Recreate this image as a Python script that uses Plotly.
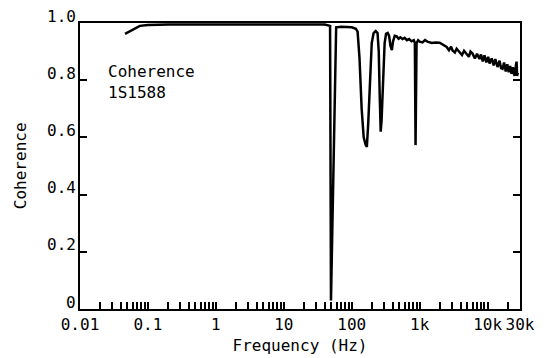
import plotly.graph_objects as go

# ---- data ----
freq_hz = [0.046, 0.06, 0.076, 0.1, 0.2, 0.5, 1, 2, 5, 10, 20, 40, 48, 49.5, 59,
           70, 100, 115, 122, 130, 140, 150, 160, 167, 175, 185, 197, 210, 225,
           240, 250, 258, 267, 275, 290, 305, 320, 338, 355, 372, 390, 405, 430,
           460, 490, 520, 560, 600, 650, 700, 760, 820, 850, 870, 900, 950, 1000,
           1100, 1200, 1300, 1500, 1700, 1970, 2200, 2500, 2700, 2900, 3050, 3300,
           3500, 3870, 4200, 4500, 4900, 5300, 5600, 6000, 6500, 7000, 7600, 8000,
           8500, 9000, 9600, 10200, 10700, 11500, 12300, 13000, 14000, 15000,
           15800, 16600, 17500, 18500, 19500, 20500, 21500, 22500, 23500, 25000,
           26000, 26700, 27200, 27800]
coherence = [0.962, 0.978, 0.99, 0.993, 0.995, 0.995, 0.995, 0.995, 0.995, 0.995,
             0.995, 0.995, 0.99, 0.03, 0.985,
             0.987, 0.985, 0.98, 0.97, 0.88, 0.70, 0.60, 0.575, 0.567, 0.65, 0.80,
             0.93, 0.965, 0.972, 0.965, 0.90, 0.75, 0.62, 0.66, 0.82, 0.93, 0.962,
             0.965, 0.955, 0.92, 0.905, 0.935, 0.955, 0.953, 0.945, 0.95, 0.944,
             0.948, 0.94, 0.944, 0.936, 0.94, 0.93, 0.573, 0.93, 0.94, 0.935,
             0.932, 0.94, 0.935, 0.93, 0.932, 0.931, 0.925, 0.916, 0.905, 0.917,
             0.904, 0.897, 0.91, 0.896, 0.888, 0.903, 0.892, 0.882, 0.9, 0.893,
             0.876, 0.892, 0.874, 0.89, 0.866, 0.887, 0.862, 0.882, 0.858, 0.876,
             0.852, 0.874, 0.846, 0.868, 0.842, 0.84, 0.862, 0.83, 0.856, 0.828,
             0.85, 0.822, 0.845, 0.815, 0.848, 0.865, 0.815, 0.826]

x_tick_vals = [0.01, 0.1, 1, 10, 100, 1000, 10000, 30000]
x_tick_text = ["0.01", "0.1", "1", "10", "100", "1k", "10k", "30k"]
y_tick_vals = [0, 0.2, 0.4, 0.6, 0.8, 1.0]
y_tick_text = ["0", "0.2", "0.4", "0.6", "0.8", "1.0"]
label_lines = ["Coherence", "1S1588"]

FONT = "DejaVu Sans Mono"

# minor tick positions (2..9 of every decade) plus labelled decades
minor_vals = []
for dec in [0.01, 0.1, 1, 10, 100, 1000, 10000]:
    for m in range(1, 10):
        v = dec * m
        if v <= 30000:
            minor_vals.append(v)
all_vals = sorted(set(minor_vals + x_tick_vals))
all_text = [x_tick_text[x_tick_vals.index(v)] if v in x_tick_vals else "" for v in all_vals]

fig = go.Figure()
fig.add_trace(go.Scatter(x=freq_hz, y=coherence, mode="lines",
                         line=dict(color="black", width=2.5), showlegend=False))

# the page body adds an 8px offset, so the figure is 8px smaller than the window
fig.update_layout(
    width=549, height=350,
    margin=dict(l=72, r=37, t=15, b=49),
    paper_bgcolor="white", plot_bgcolor="white",
    font=dict(family=FONT, size=16, color="black"),
)
fig.update_xaxes(type="log", range=[-2, 4.4771], automargin=False,
                 tickvals=all_vals, ticktext=all_text,
                 ticks="inside", ticklen=7, tickwidth=1.5, tickcolor="black",
                 showline=True, linecolor="black", linewidth=2, mirror=True,
                 showgrid=False, zeroline=False,
                 title=dict(text="Frequency (Hz)", standoff=7,
                            font=dict(family=FONT, size=16)))
fig.update_yaxes(range=[0, 1.0], tickvals=y_tick_vals, automargin=False,
                 showticklabels=False,
                 ticks="inside", ticklen=7, tickwidth=1.5, tickcolor="black",
                 showline=True, linecolor="black", linewidth=2, mirror="ticks",
                 showgrid=False, zeroline=False)

for v, t in zip(y_tick_vals, y_tick_text):
    fig.add_annotation(xref="paper", yref="y", x=0, y=v, text=t,
                       showarrow=False, xanchor="right", yanchor="middle",
                       xshift=-2, yshift=7, font=dict(family=FONT, size=16))

fig.add_annotation(xref="paper", yref="paper", x=-0.136, y=0.5, text="Coherence",
                   textangle=-90, showarrow=False, xanchor="center", yanchor="middle",
                   font=dict(family=FONT, size=16))

fig.add_annotation(xref="paper", yref="paper", x=0.06, y=0.87,
                   text="<br>".join(label_lines), align="left",
                   showarrow=False, xanchor="left", yanchor="top",
                   font=dict(family=FONT, size=16))

fig.write_html("out.html")
